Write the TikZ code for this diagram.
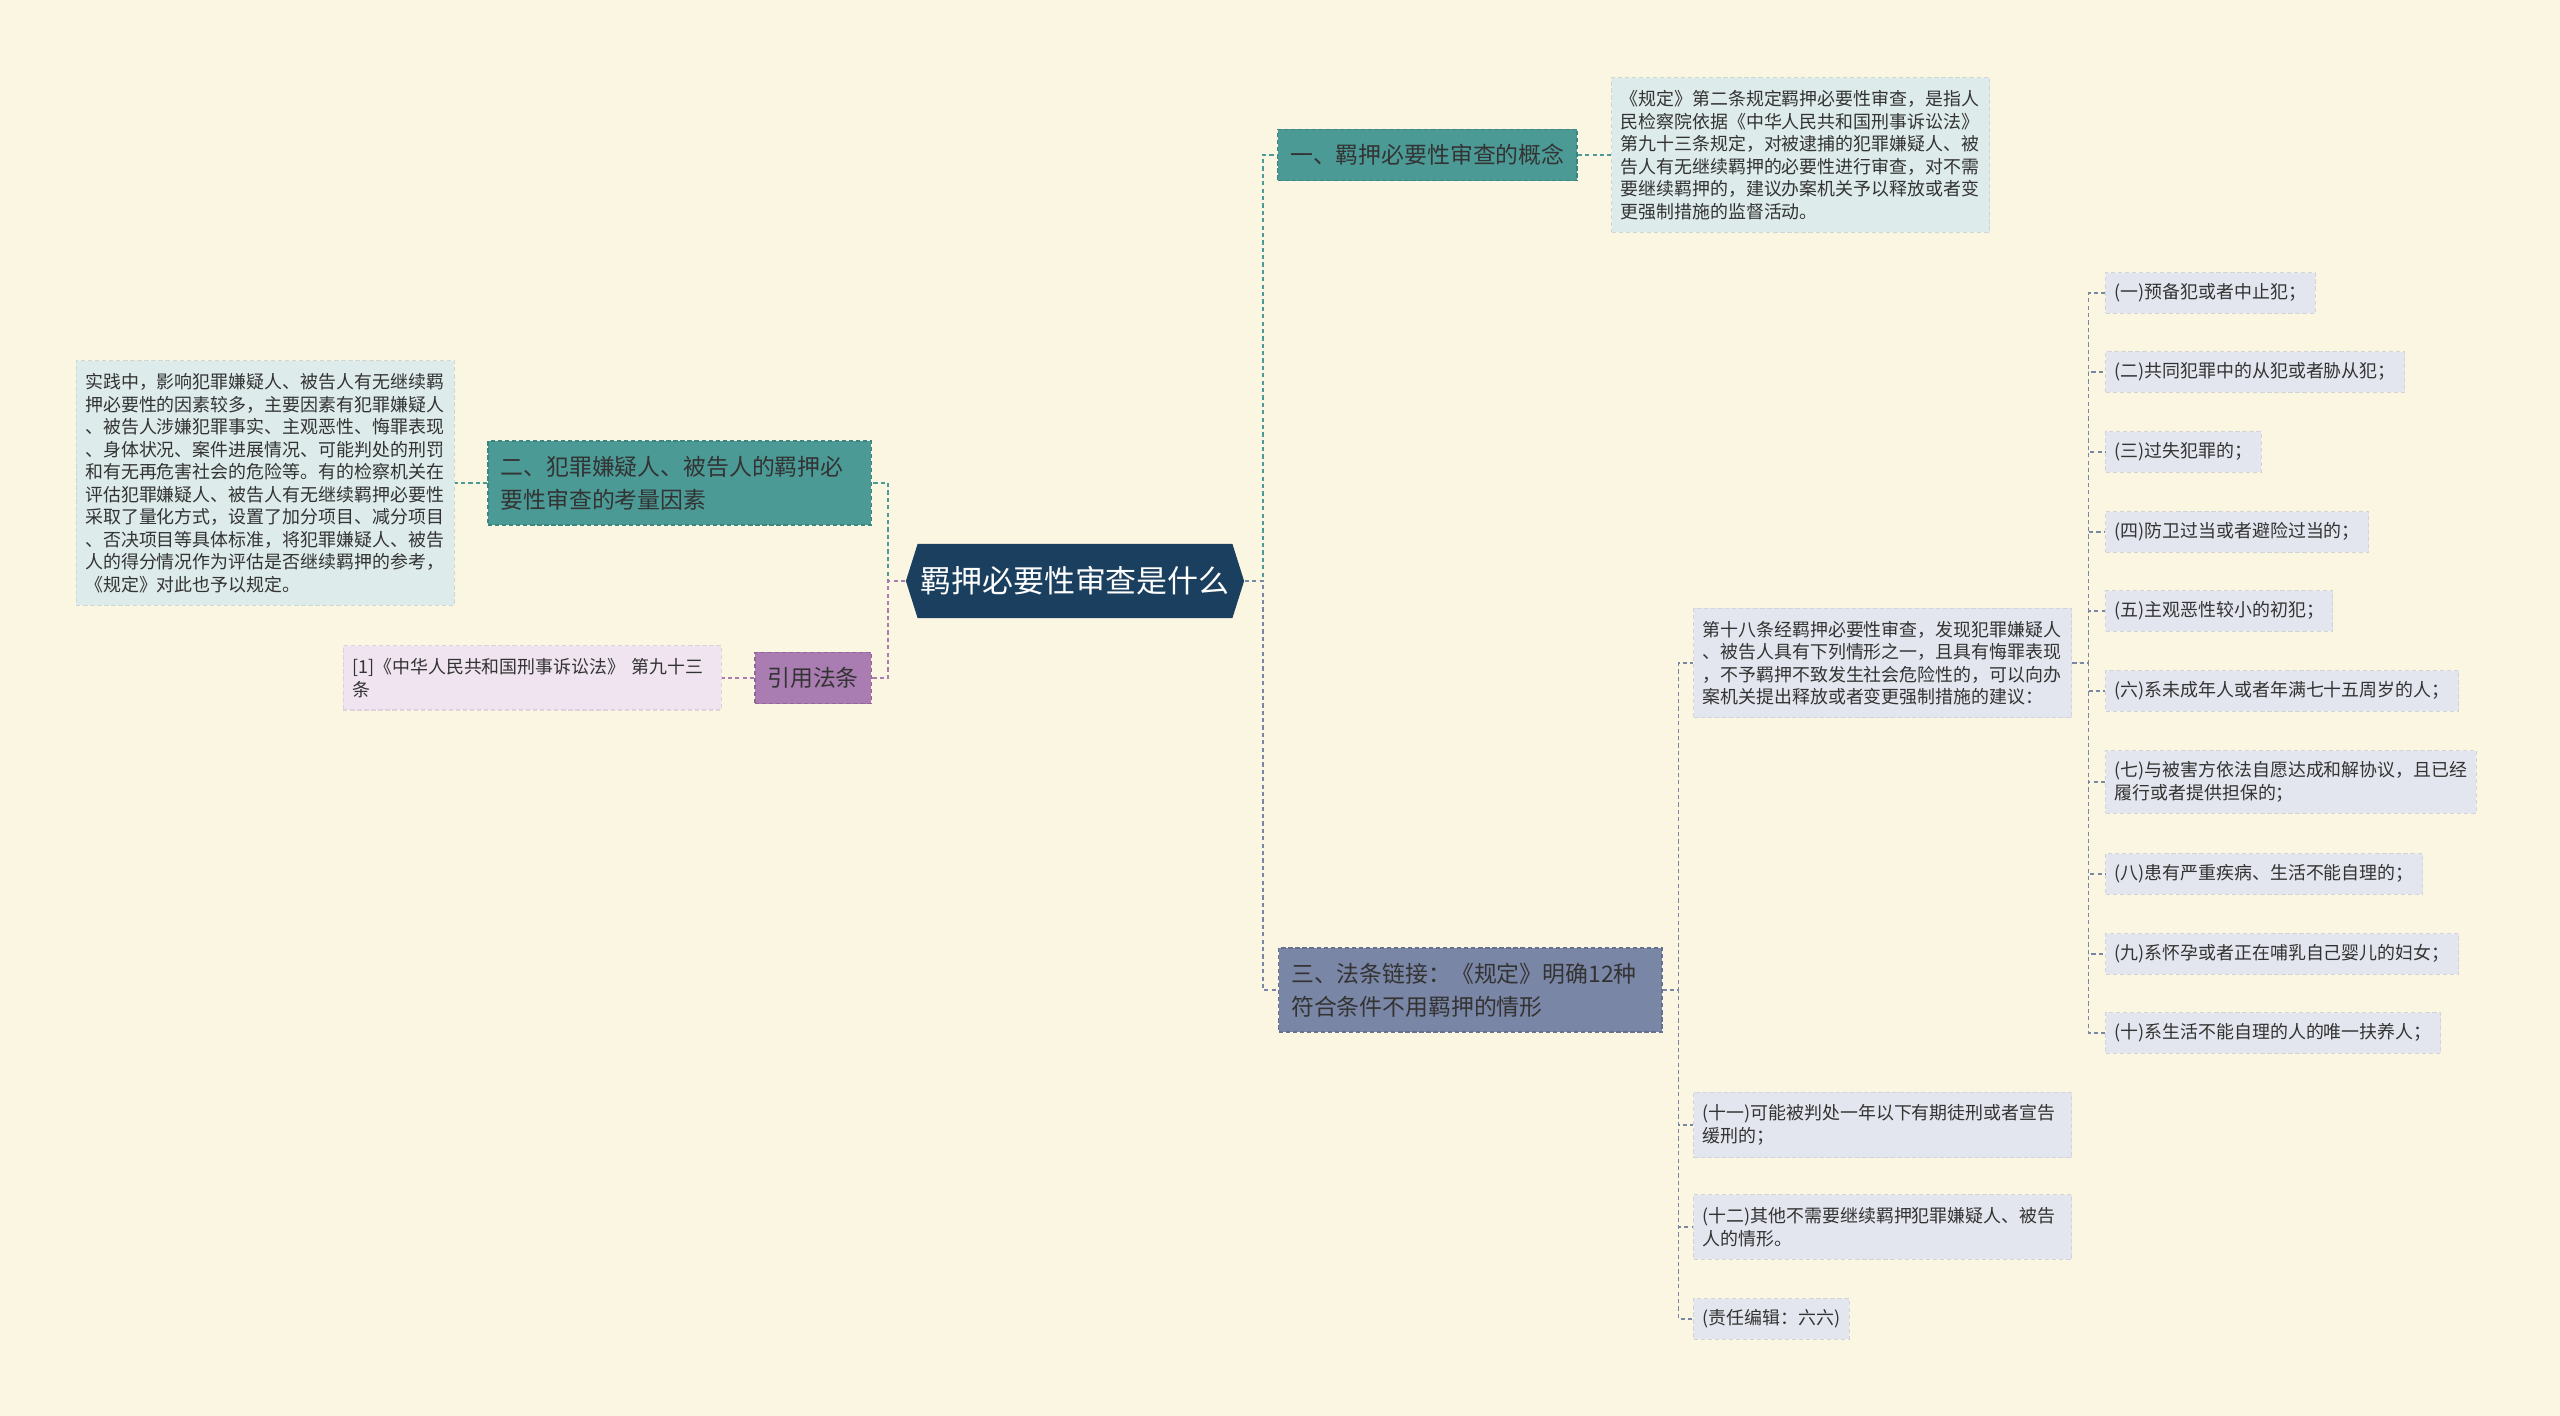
\documentclass[tikz,border=0pt]{standalone}
\usepackage{fontspec}
\setmainfont{Noto Sans CJK SC}
\usepackage{xcolor}
\usepackage{tikz}
\usetikzlibrary{shapes.symbols}
\definecolor{bgcol}{HTML}{FBF6E2}
\definecolor{rootcol}{HTML}{1B3F5E}
\definecolor{tealcol}{HTML}{4B9A96}
\definecolor{tealedge}{HTML}{3C8682}
\definecolor{tealleaf}{HTML}{DDEBEA}
\definecolor{plumcol}{HTML}{A97DB2}
\definecolor{plumedge}{HTML}{91669A}
\definecolor{plumleaf}{HTML}{EFE4F0}
\definecolor{slatecol}{HTML}{7A86A6}
\definecolor{slateedge}{HTML}{66718F}
\definecolor{slateleaf}{HTML}{E3E6EE}
\definecolor{inkcol}{HTML}{333333}
\tikzstyle{root} = [signal, signal to=west and east, signal pointer angle=145, fill=rootcol, text=white, font=\fontsize{8.8pt}{10pt}\selectfont, minimum width=3.38cm, minimum height=0.74cm, inner sep=0pt]
\tikzstyle{branch} = [rectangle, align=left, text=inkcol, font=\fontsize{6.5pt}{9.4pt}\selectfont, inner xsep=0.125cm, inner ysep=0.15cm, dash pattern=on 1.2pt off 0.8pt, line width=0.4pt]
\tikzstyle{leaf} = [rectangle, align=left, text=inkcol, font=\fontsize{5.1pt}{6.4pt}\selectfont, inner xsep=0.09cm, inner ysep=0.11cm, dash pattern=on 1.2pt off 0.8pt, line width=0.3pt]
\tikzstyle{wide} = [text width=3.6cm, inner ysep=0.125cm]
\tikzstyle{link} = [line width=0.6pt, dash pattern=on 1.2pt off 0.9pt]
\tikzstyle{twig} = [line width=0.4pt, dash pattern=on 1.2pt off 0.9pt, slatecol]

\begin{document}
\begin{tikzpicture}[x=0.01cm, y=-0.01cm]
		\fill [bgcol] (0,0) rectangle (2560,1416);
		\useasboundingbox (0,0) rectangle (2560,1416);

		\node (root) [root] at (1075,581) {羁押必要性审查是什么};

		% right side
		\node (sec1) [branch, fill=tealcol, draw=tealedge, anchor=west] at (1277,155) {一、羁押必要性审查的概念};
		\node (txt1) [leaf, wide, fill=tealleaf, draw=tealleaf!92!black, anchor=west] at (1611,155) {《规定》第二条规定羁押必要性审查，是指人\\民检察院依据《中华人民共和国刑事诉讼法》\\第九十三条规定，对被逮捕的犯罪嫌疑人、被\\告人有无继续羁押的必要性进行审查，对不需\\要继续羁押的，建议办案机关予以释放或者变\\更强制措施的监督活动。};

		\node (sec3) [branch, text width=3.58cm, fill=slatecol, draw=slateedge, anchor=west] at (1278,990) {三、法条链接：《规定》明确12种\\符合条件不用羁押的情形};
		\node (art18) [leaf, wide, fill=slateleaf, draw=slateleaf!92!black, anchor=west] at (1693,663) {第十八条经羁押必要性审查，发现犯罪嫌疑人\\、被告人具有下列情形之一，且具有悔罪表现\\，不予羁押不致发生社会危险性的，可以向办\\案机关提出释放或者变更强制措施的建议：};
		\node (c11) [leaf, wide, fill=slateleaf, draw=slateleaf!92!black, anchor=west] at (1693,1125) {(十一)可能被判处一年以下有期徒刑或者宣告\\缓刑的；};
		\node (c12) [leaf, wide, fill=slateleaf, draw=slateleaf!92!black, anchor=west] at (1693,1227) {(十二)其他不需要继续羁押犯罪嫌疑人、被告\\人的情形。};
		\node (editor) [leaf, fill=slateleaf, draw=slateleaf!92!black, anchor=west] at (1693,1319) {(责任编辑：六六)};

		\node (c1) [leaf, fill=slateleaf, draw=slateleaf!92!black, anchor=west] at (2105,293) {(一)预备犯或者中止犯；};
		\node (c2) [leaf, fill=slateleaf, draw=slateleaf!92!black, anchor=west] at (2105,372) {(二)共同犯罪中的从犯或者胁从犯；};
		\node (c3) [leaf, fill=slateleaf, draw=slateleaf!92!black, anchor=west] at (2105,452) {(三)过失犯罪的；};
		\node (c4) [leaf, fill=slateleaf, draw=slateleaf!92!black, anchor=west] at (2105,532) {(四)防卫过当或者避险过当的；};
		\node (c5) [leaf, fill=slateleaf, draw=slateleaf!92!black, anchor=west] at (2105,611) {(五)主观恶性较小的初犯；};
		\node (c6) [leaf, fill=slateleaf, draw=slateleaf!92!black, anchor=west] at (2105,691) {(六)系未成年人或者年满七十五周岁的人；};
		\node (c7) [leaf, fill=slateleaf, draw=slateleaf!92!black, anchor=west] at (2105,782) {(七)与被害方依法自愿达成和解协议，且已经\\履行或者提供担保的；};
		\node (c8) [leaf, fill=slateleaf, draw=slateleaf!92!black, anchor=west] at (2105,874) {(八)患有严重疾病、生活不能自理的；};
		\node (c9) [leaf, fill=slateleaf, draw=slateleaf!92!black, anchor=west] at (2105,954) {(九)系怀孕或者正在哺乳自己婴儿的妇女；};
		\node (c10) [leaf, fill=slateleaf, draw=slateleaf!92!black, anchor=west] at (2105,1033) {(十)系生活不能自理的人的唯一扶养人；};

		% left side
		\node (sec2) [branch, text width=3.58cm, fill=tealcol, draw=tealedge, anchor=east] at (872,483) {二、犯罪嫌疑人、被告人的羁押必\\要性审查的考量因素};
		\node (txt2) [leaf, wide, fill=tealleaf, draw=tealleaf!92!black, anchor=east] at (455,483) {实践中，影响犯罪嫌疑人、被告人有无继续羁\\押必要性的因素较多，主要因素有犯罪嫌疑人\\、被告人涉嫌犯罪事实、主观恶性、悔罪表现\\、身体状况、案件进展情况、可能判处的刑罚\\和有无再危害社会的危险等。有的检察机关在\\评估犯罪嫌疑人、被告人有无继续羁押必要性\\采取了量化方式，设置了加分项目、减分项目\\、否决项目等具体标准，将犯罪嫌疑人、被告\\人的得分情况作为评估是否继续羁押的参考，\\《规定》对此也予以规定。};
		\node (cite) [branch, fill=plumcol, draw=plumedge, anchor=east] at (872,678) {引用法条};
		\node (ref) [leaf, wide, fill=plumleaf, draw=plumleaf!92!black, anchor=east] at (722,678) {[1]《中华人民共和国刑事诉讼法》 第九十三\\条};

		% connectors
		\draw [link, tealcol] (root.east) -- ++(18,0) |- (sec1.west);
		\draw [link, slatecol] (root.east) -- ++(18,0) |- (sec3.west);
		\draw [link, tealcol] (root.west) -- ++(-17,0) |- (sec2.east);
		\draw [link, plumcol] (root.west) -- ++(-17,0) |- (cite.east);
		\draw [link, tealcol] (sec1.east) -- (txt1.west);
		\draw [link, tealcol] (sec2.west) -- (txt2.east);
		\draw [link, plumcol] (cite.west) -- (ref.east);

		\draw [twig] (sec3.east) -- ++(16,0) |- (art18.west);
		\draw [twig] (sec3.east) -- ++(16,0) |- (c11.west);
		\draw [twig] (sec3.east) -- ++(16,0) |- (c12.west);
		\draw [twig] (sec3.east) -- ++(16,0) |- (editor.west);

		\draw [twig] (art18.east) -- ++(16,0) |- (c1.west);
		\draw [twig] (art18.east) -- ++(16,0) |- (c2.west);
		\draw [twig] (art18.east) -- ++(16,0) |- (c3.west);
		\draw [twig] (art18.east) -- ++(16,0) |- (c4.west);
		\draw [twig] (art18.east) -- ++(16,0) |- (c5.west);
		\draw [twig] (art18.east) -- ++(16,0) |- (c6.west);
		\draw [twig] (art18.east) -- ++(16,0) |- (c7.west);
		\draw [twig] (art18.east) -- ++(16,0) |- (c8.west);
		\draw [twig] (art18.east) -- ++(16,0) |- (c9.west);
		\draw [twig] (art18.east) -- ++(16,0) |- (c10.west);
	\end{tikzpicture}
\end{document}
